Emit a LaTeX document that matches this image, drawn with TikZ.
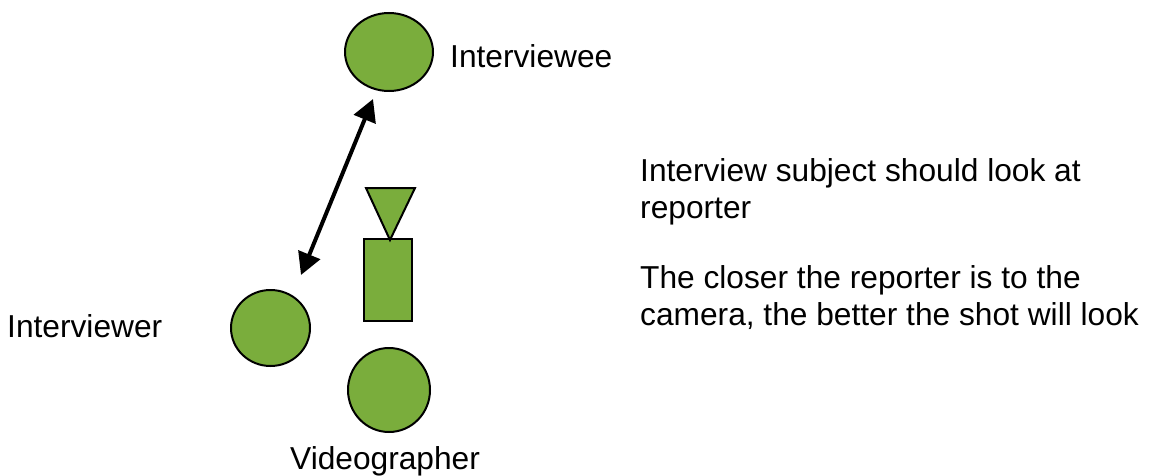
\documentclass[tikz,border=0pt]{standalone}
\usepackage{fontspec}
\setmainfont{Liberation Sans}
\usetikzlibrary{shapes.geometric,arrows.meta}
\definecolor{leaf}{RGB}{122,173,60}
\tikzset{
  person/.style={ellipse, draw=black, line width=2pt, fill=leaf, inner sep=0pt},
  gear/.style={draw=black, line width=2pt, fill=leaf, line join=miter},
  caption/.style={font=\fontsize{31.7}{37}\selectfont, inner sep=0pt, anchor=base west},
  note/.style={caption, align=left},
  link/.style={line width=4pt, {Triangle[length=22pt,width=23pt]}-{Triangle[length=22pt,width=23pt]}}
}
\begin{document}
\begin{tikzpicture}[x=1pt, y=-1pt]
  \useasboundingbox (0,0) rectangle (1162,476);

  % people
  \node[person, minimum width=88pt, minimum height=78pt] (ive) at (389,52) {};
  \node[person, minimum width=79pt, minimum height=76pt] (ivr) at (270.5,328) {};
  \node[person, minimum width=82pt, minimum height=84pt] (vid) at (389,390) {};

  % camera: body and lens
  \node[gear, rectangle, minimum width=48pt, minimum height=82pt, inner sep=0pt] (cam) at (388,280) {};
  \draw[gear] (366,188) -- (415,188) -- (390,240) -- cycle;

  % line of sight between reporter and subject
  \coordinate (lookA) at (301,275);
  \coordinate (lookB) at (373,99);
  \draw[link] (lookA) -- (lookB);

  % labels
  \node[caption] (tive) at (450,68) {Interviewee};
  \node[caption] (tivr) at (7,337) {Interviewer};
  \node[caption] (tvid) at (290,469) {Videographer};

  % notes (anchored on the baseline of their last line)
  \node[note] (n1) at (640,218) {Interview subject should look at\\reporter};
  \node[note] (n2) at (640,325) {The closer the reporter is to the\\camera, the better the shot will look};
\end{tikzpicture}
\end{document}
